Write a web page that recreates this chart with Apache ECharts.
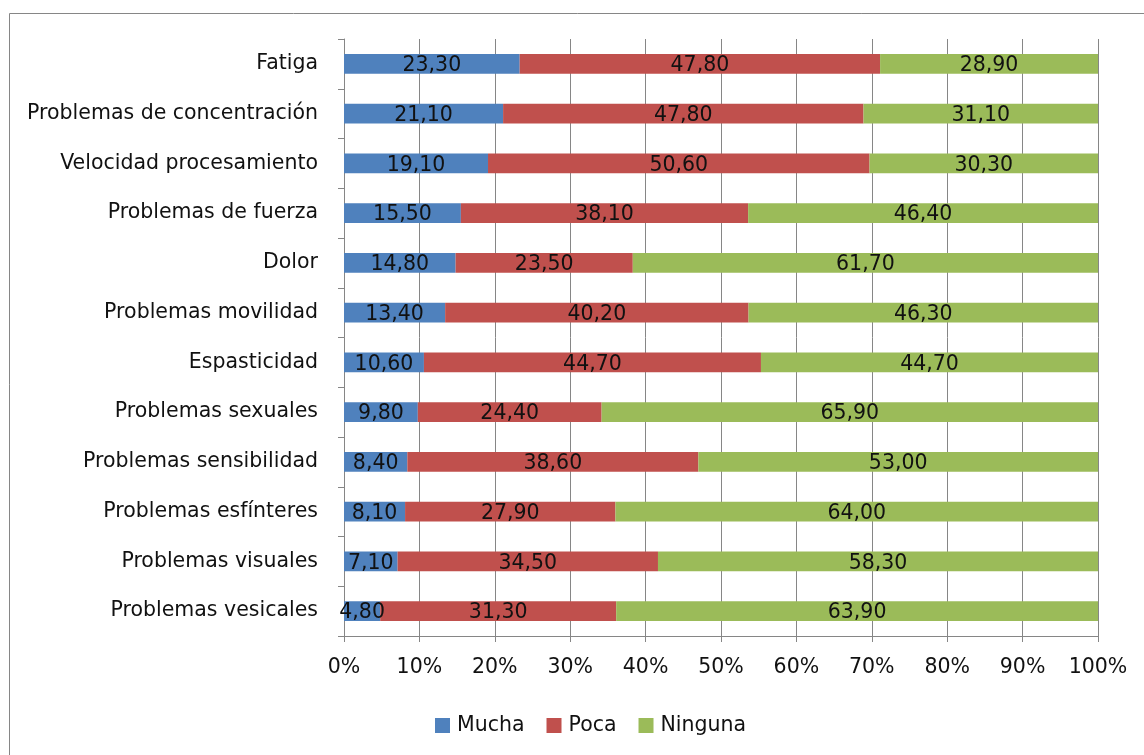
<!DOCTYPE html>
<html><head><meta charset="utf-8">
<script src="https://cdn.jsdelivr.net/npm/echarts@6/dist/echarts.min.js"></script>
<style>html,body{margin:0;padding:0;background:#fff}#c{width:1144px;height:755px}</style>
</head><body><div id="c"></div>
<script>
const categories = ["Fatiga","Problemas de concentración","Velocidad procesamiento","Problemas de fuerza","Dolor","Problemas movilidad","Espasticidad","Problemas sexuales","Problemas sensibilidad","Problemas esfínteres","Problemas visuales","Problemas vesicales"];
const mucha = [23.3,21.1,19.1,15.5,14.8,13.4,10.6,9.8,8.4,8.1,7.1,4.8];
const poca = [47.8,47.8,50.6,38.1,23.5,40.2,44.7,24.4,38.6,27.9,34.5,31.3];
const ninguna = [28.9,31.1,30.3,46.4,61.7,46.3,44.7,65.9,53.0,64.0,58.3,63.9];
const seriesNames = ["Mucha","Poca","Ninguna"];
const colors = ["#4F81BD","#C0504D","#9BBB59"];

const raw = [mucha, poca, ninguna];
const totals = categories.map((_, i) => mucha[i] + poca[i] + ninguna[i]);
const FONT = "DejaVu Sans";
const FS = 20.5;
const chart = echarts.init(document.getElementById('c'));
chart.setOption({
  animation: false,
  textStyle: {fontFamily: FONT},
  graphic: [{type:'rect', shape:{x:9.5,y:13.5,width:1150,height:760}, style:{fill:'none', stroke:'#868686', lineWidth:1}, silent:true}],
  grid: {left:344, right:46, top:39, bottom:119},
  legend: {top:710, left:430, itemWidth:15, itemHeight:15, itemGap:22, icon:'rect',
    textStyle:{fontSize:FS, color:'#111', fontFamily:FONT, padding:[0,0,0,2]}, data:seriesNames},
  xAxis: {type:'value', min:0, max:100, interval:10,
    axisLabel:{formatter:'{value}%', fontSize:FS, color:'#111', margin:21},
    axisLine:{show:true, lineStyle:{color:'#868686'}},
    axisTick:{show:true, length:6, lineStyle:{color:'#868686'}},
    splitLine:{show:true, lineStyle:{color:'#868686', width:1}}},
  yAxis: {type:'category', data:categories, inverse:true,
    axisLabel:{fontSize:FS, color:'#111', margin:26, padding:[4,0,0,0]},
    axisLine:{show:true, lineStyle:{color:'#868686'}},
    axisTick:{show:true, length:6, lineStyle:{color:'#868686'}}},
  series: raw.map((arr, s) => ({
    name: seriesNames[s], type:'bar', stack:'t', barCategoryGap:'60%',
    itemStyle:{color:colors[s]},
    label:{show:true, position:'inside', color:'#111', fontSize:FS, offset:[0,2],
      formatter: p => arr[p.dataIndex].toFixed(2).replace('.', ',')},
    data: arr.map((v, i) => v / totals[i] * 100)
  }))
});
</script></body></html>
